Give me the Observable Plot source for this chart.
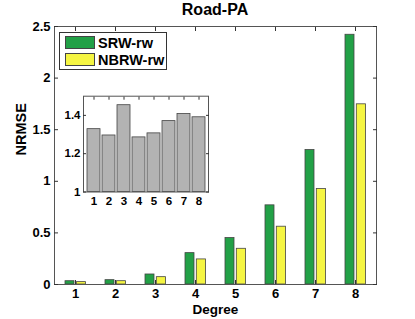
<!DOCTYPE html>
<html><head><meta charset="utf-8">
<script src="https://cdn.jsdelivr.net/npm/d3@7"></script>
<script src="https://cdn.jsdelivr.net/npm/@observablehq/plot@0.6"></script>
<style>
body{margin:0;background:#fff;}
#wrap{position:relative;width:415px;height:319px;font-family:"Liberation Sans",Arial,Helvetica,sans-serif;font-weight:bold;color:#000;}
#title{position:absolute;left:165px;width:100px;top:0px;text-align:center;font-size:16px;line-height:20px;}
#legend{position:absolute;left:59px;top:32px;width:108px;height:38px;border:1px solid #333;background:#fff;box-sizing:border-box;}
.sw{position:absolute;left:5px;width:30px;height:13px;border:1px solid #444;box-sizing:border-box;}
.lt{position:absolute;left:38px;font-size:14.5px;line-height:16px;}
svg{position:absolute;}
</style></head><body><div id="wrap"><div id="title">Road-PA</div></div>
<script>
const degrees = [1, 2, 3, 4, 5, 6, 7, 8];
const srw = [0.032, 0.042, 0.097, 0.304, 0.45, 0.767, 1.303, 2.42];
const nbrw = [0.023, 0.032, 0.071, 0.243, 0.346, 0.56, 0.925, 1.746];
const ratio = [1.328, 1.295, 1.453, 1.285, 1.306, 1.370, 1.407, 1.39];
const yTicks = [0, 0.5, 1, 1.5, 2, 2.5];
const insetTicks = [1, 1.2, 1.4];
const seriesNames = ["SRW-rw", "NBRW-rw"];
const colors = ["#22a046", "#f5f542"];

const font = '"Liberation Sans", Arial, Helvetica, sans-serif';
const srwRows = degrees.map((d, i) => ({degree: d, series: seriesNames[0], value: srw[i]}));
const nbrwRows = degrees.map((d, i) => ({degree: d, series: seriesNames[1], value: nbrw[i]}));

const main = Plot.plot({
  width: 415, height: 319,
  marginLeft: 54, marginRight: 39, marginTop: 26, marginBottom: 35,
  style: {fontFamily: font, fontWeight: "bold", fontSize: "13px", background: "transparent", color: "#000"},
  x: {type: "band", domain: degrees, padding: 0},
  y: {domain: [0, 2.5]},
  color: {domain: seriesNames, range: colors},
  marks: [
    Plot.barY(srwRows, {x: "degree", y: "value", fill: "series", stroke: "#444", strokeWidth: 0.8, insetLeft: 10, insetRight: 21}),
    Plot.barY(nbrwRows, {x: "degree", y: "value", fill: "series", stroke: "#444", strokeWidth: 0.8, insetLeft: 21.3, insetRight: 9.5}),
    Plot.frame({stroke: "#555"}),
    Plot.axisY(yTicks, {anchor: "left", tickSize: 0, tickPadding: 4, tickFormat: d => String(d), label: null, fontSize: 13}),
    Plot.axisY(yTicks, {anchor: "left", tickSize: -4, tickFormat: () => "", label: null, stroke: "#333"}),
    Plot.axisY(yTicks, {anchor: "right", tickSize: -4, tickFormat: () => "", label: null, stroke: "#333"}),
    Plot.axisX(degrees, {anchor: "bottom", tickSize: 0, tickPadding: 4, label: null, fontSize: 13}),
    Plot.axisX(degrees, {anchor: "bottom", tickSize: -4, tickFormat: () => "", label: null, stroke: "#333"}),
    Plot.axisX(degrees, {anchor: "top", tickSize: -4, tickFormat: () => "", label: null, stroke: "#333"}),
    Plot.text(["NRMSE"], {frameAnchor: "left", dx: -33, rotate: -90, fontSize: 14.5, fontWeight: "bold"}),
    Plot.text(["Degree"], {frameAnchor: "bottom", dy: 29.5, fontSize: 13.5, fontWeight: "bold"})
  ]
});
main.style.left = "0px"; main.style.top = "0px";
const wrap = document.getElementById("wrap");
wrap.appendChild(main);

const inset = Plot.plot({
  width: 150, height: 122,
  marginLeft: 20, marginRight: 5, marginTop: 7.7, marginBottom: 18.5,
  style: {fontFamily: font, fontWeight: "bold", fontSize: "11.5px", background: "#fff", color: "#000"},
  x: {type: "band", domain: degrees, paddingInner: 0.15, paddingOuter: 0.075},
  y: {domain: [1, 1.5]},
  marks: [
    Plot.barY(degrees, {x: d => d, y1: 1, y2: (d, i) => ratio[i], fill: "#b3b3b3", stroke: "#444", strokeWidth: 0.8}),
    Plot.frame({stroke: "#555"}),
    Plot.axisY(insetTicks, {anchor: "left", tickSize: 0, tickPadding: 3, tickFormat: d => d === 1 ? "1" : d.toFixed(1), label: null, fontSize: 11.5}),
    Plot.axisY(insetTicks, {anchor: "left", tickSize: -3, tickFormat: () => "", label: null, stroke: "#333"}),
    Plot.axisY(insetTicks, {anchor: "right", tickSize: -3, tickFormat: () => "", label: null, stroke: "#333"}),
    Plot.axisX(degrees, {anchor: "bottom", tickSize: 0, tickPadding: 5, label: null, fontSize: 11.5}),
    Plot.axisX(degrees, {anchor: "top", tickSize: -3, tickFormat: () => "", label: null, stroke: "#333"})
  ]
});
inset.style.left = "63px"; inset.style.top = "88px";
wrap.appendChild(inset);

const legend = document.createElement("div");
legend.id = "legend";
seriesNames.forEach((name, i) => {
  const sw = document.createElement("div");
  sw.className = "sw";
  sw.style.top = (3 + i * 17) + "px";
  sw.style.background = colors[i];
  legend.appendChild(sw);
  const t = document.createElement("div");
  t.className = "lt";
  t.style.top = (1.5 + i * 17) + "px";
  t.textContent = name;
  legend.appendChild(t);
});
wrap.appendChild(legend);
</script>
</body></html>
